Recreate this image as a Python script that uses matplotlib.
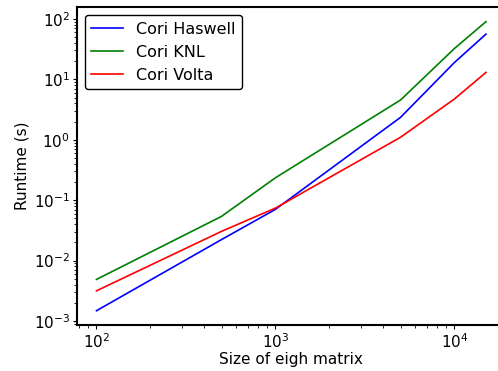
import matplotlib
matplotlib.use("Agg")
import matplotlib.pyplot as plt

sizes = [100, 500, 1000, 5000, 10000, 15000]
haswell = [0.00148, 0.0223, 0.0705, 2.35, 19.0, 56.0]
knl = [0.00488, 0.054, 0.235, 4.55, 32.4, 90.0]
volta = [0.00316, 0.0305, 0.074, 1.1, 4.73, 13.0]


def main():
    fig = plt.figure(figsize=(4.98, 3.71), dpi=100)
    ax = fig.add_axes([0.1546, 0.1235, 0.8604, 0.8571])

    ax.plot(sizes, haswell, color='b', linewidth=1.2, label='Cori Haswell')
    ax.plot(sizes, knl, color='g', linewidth=1.2, label='Cori KNL')
    ax.plot(sizes, volta, color='r', linewidth=1.2, label='Cori Volta')

    ax.set_xscale('log')
    ax.set_yscale('log')
    ax.set_xlabel("Size of eigh matrix", fontsize=11, labelpad=1)
    ax.set_ylabel("Runtime (s)", fontsize=11, labelpad=3)
    ax.tick_params(labelsize=11, pad=2)
    ax.tick_params(which='major', length=3)
    ax.tick_params(which='minor', length=2)

    for s in ax.spines.values():
        s.set_linewidth(1.5)

    leg = ax.legend(loc='upper left', fontsize=11.5, framealpha=1.0)
    leg.get_frame().set_edgecolor('black')

    fig.savefig('out.png', dpi=100)


if __name__ == '__main__':
    main()
